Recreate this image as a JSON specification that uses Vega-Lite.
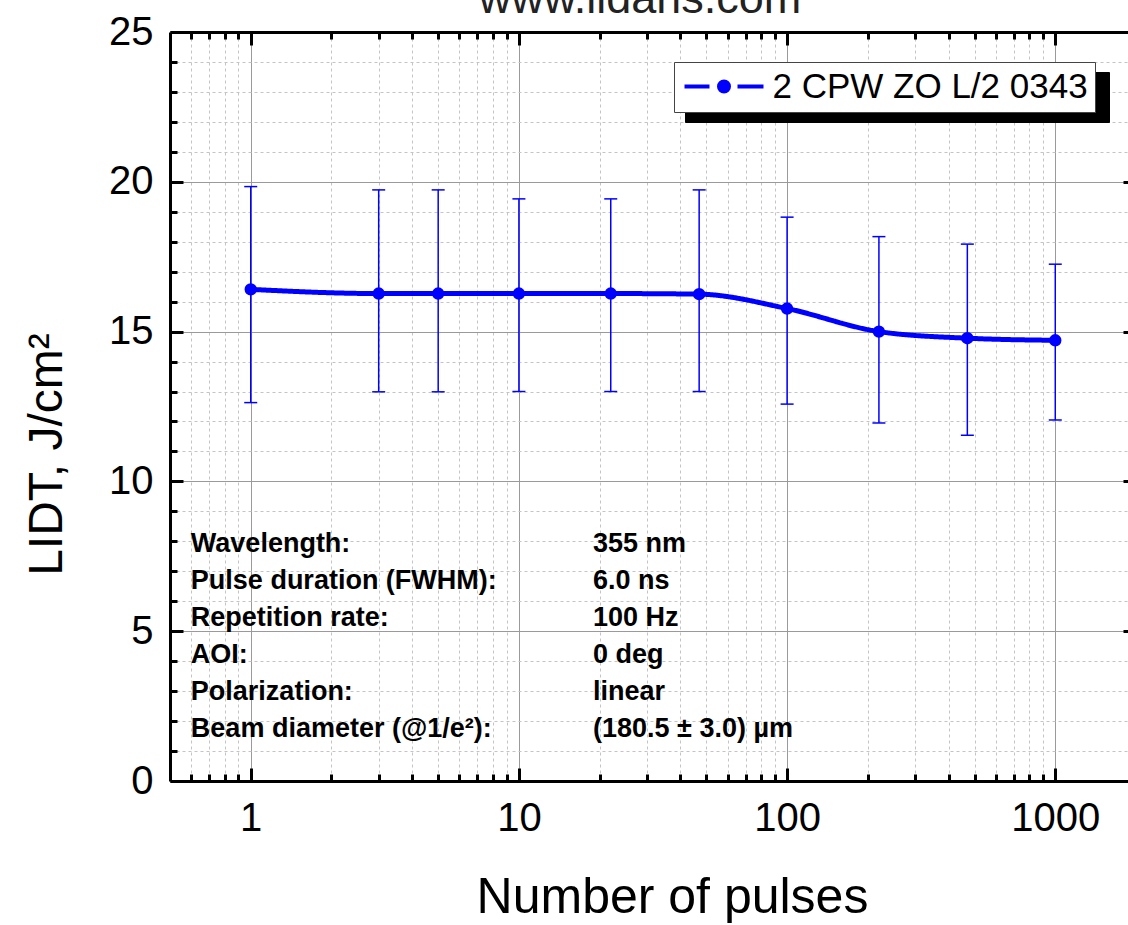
{
  "$schema": "https://vega.github.io/schema/vega-lite/v6.json",
  "width": 966,
  "height": 749,
  "autosize": {"type": "none"},
  "padding": {"left": 170, "top": 32, "right": -8, "bottom": 144},
  "background": "white",
  "config": {
    "view": {"stroke": null},
    "font": "Liberation Sans",
    "axis": {"domainColor": "black", "domainWidth": 3, "tickColor": "black", "tickWidth": 3, "gridColor": "#9a9a9a", "gridWidth": 1, "labelFont": "Liberation Sans", "labelFontSize": 40, "labelColor": "black", "titleFont": "Liberation Sans", "titleColor": "black", "titleFontWeight": "normal", "labelPadding": 30}
  },
  "datasets": {
    "lidt": [
      {"n": 1, "lidt": 16.41, "lo": 12.63, "hi": 19.84, "series": "2 CPW ZO L/2 0343", "shadow": "shadow"},
      {"n": 3, "lidt": 16.27, "lo": 12.99, "hi": 19.73, "series": "2 CPW ZO L/2 0343", "shadow": "shadow"},
      {"n": 5, "lidt": 16.27, "lo": 12.99, "hi": 19.73, "series": "2 CPW ZO L/2 0343", "shadow": "shadow"},
      {"n": 10, "lidt": 16.27, "lo": 13.0, "hi": 19.43, "series": "2 CPW ZO L/2 0343", "shadow": "shadow"},
      {"n": 22, "lidt": 16.27, "lo": 13.0, "hi": 19.43, "series": "2 CPW ZO L/2 0343", "shadow": "shadow"},
      {"n": 47, "lidt": 16.25, "lo": 13.0, "hi": 19.73, "series": "2 CPW ZO L/2 0343", "shadow": "shadow"},
      {"n": 100, "lidt": 15.77, "lo": 12.58, "hi": 18.82, "series": "2 CPW ZO L/2 0343", "shadow": "shadow"},
      {"n": 220, "lidt": 15.0, "lo": 11.95, "hi": 18.17, "series": "2 CPW ZO L/2 0343", "shadow": "shadow"},
      {"n": 470, "lidt": 14.78, "lo": 11.54, "hi": 17.92, "series": "2 CPW ZO L/2 0343", "shadow": "shadow"},
      {"n": 1000, "lidt": 14.71, "lo": 12.05, "hi": 17.25, "series": "2 CPW ZO L/2 0343", "shadow": "shadow"}
    ],
    "info": [
      {"params": ["Wavelength:", "Pulse duration (FWHM):", "Repetition rate:", "AOI:", "Polarization:", "Beam diameter (@1/e²):"],
       "values": ["355 nm", "6.0 ns", "100 Hz", "0 deg", "linear", "(180.5 ± 3.0) µm"]}
    ],
    "site": [{"site": "www.lidaris.com"}]
  },
  "layer": [
    {
      "data": {"name": "lidt"},
      "mark": {"type": "line", "color": "#0000ff", "strokeWidth": 5, "interpolate": "monotone"},
      "encoding": {
        "x": {"field": "n", "type": "quantitative", "scale": {"type": "log", "domain": [0.5, 2000]},
              "axis": {"orient": "bottom", "values": [0.6, 0.7, 0.8, 0.9, 2, 3, 4, 5, 6, 7, 8, 9, 20, 30, 40, 50, 60, 70, 80, 90, 200, 300, 400, 500, 600, 700, 800, 900, 2000], "tickSize": -7, "labels": false, "domain": false, "grid": true, "gridDash": [3, 3], "gridColor": "#c4c4c4", "title": null}},
        "y": {"field": "lidt", "type": "quantitative", "scale": {"domain": [0, 25]},
              "axis": {"orient": "left", "values": [1, 2, 3, 4, 6, 7, 8, 9, 11, 12, 13, 14, 16, 17, 18, 19, 21, 22, 23, 24], "tickSize": -7, "labels": false, "domain": false, "grid": true, "gridDash": [3, 3], "gridColor": "#c4c4c4", "title": null}},
        "strokeDash": {"field": "shadow", "type": "nominal", "scale": {"range": [[1, 0]]},
              "legend": {"orient": "none", "legendX": 515, "legendY": 40, "title": null, "fillColor": "black", "strokeColor": "black", "padding": 7, "labelFontSize": 35, "labelColor": "black", "labelExpr": "''", "symbolType": "M-2.633,-0.66L23.9,-0.66L23.9,0.66L-2.633,0.66Z", "symbolSize": 900, "symbolFillColor": "black", "symbolStrokeColor": "black", "symbolStrokeWidth": 4, "symbolOffset": 25.5, "labelOffset": 31}}
      }
    },
    {
      "data": {"name": "lidt"},
      "mark": {"type": "rule", "color": "#0000ff", "strokeWidth": 1.5},
      "encoding": {
        "x": {"field": "n", "type": "quantitative", "scale": {"type": "log", "domain": [0.5, 2000]},
              "axis": {"orient": "bottom", "values": [1, 10, 100, 1000], "format": "d", "tickSize": -13, "grid": true, "title": "Number of pulses", "titleFontSize": 50, "titleX": 502, "titleY": 131, "titleAlign": "center", "titleBaseline": "alphabetic"}},
        "y": {"field": "lo", "type": "quantitative", "scale": {"domain": [0, 25]},
              "axis": {"orient": "left", "values": [0, 5, 10, 15, 20, 25], "tickSize": -13, "grid": true, "title": "LIDT, J/cm²", "titleFontSize": 48, "titleAngle": -90, "titleX": -109, "titleY": 422, "titleAlign": "center", "titleBaseline": "alphabetic"}},
        "y2": {"field": "hi"}
      }
    },
    {
      "data": {"name": "lidt"},
      "mark": {"type": "tick", "orient": "horizontal", "color": "#0000ff", "size": 13, "thickness": 1.5, "opacity": 1},
      "encoding": {
        "x": {"field": "n", "type": "quantitative", "scale": {"type": "log", "domain": [0.5, 2000]},
              "axis": {"orient": "top", "values": [0.6, 0.7, 0.8, 0.9, 2, 3, 4, 5, 6, 7, 8, 9, 20, 30, 40, 50, 60, 70, 80, 90, 200, 300, 400, 500, 600, 700, 800, 900, 2000], "tickSize": -7, "labels": false, "domain": false, "grid": false, "title": null}},
        "y": {"field": "hi", "type": "quantitative", "scale": {"domain": [0, 25]},
              "axis": {"orient": "right", "values": [0, 5, 10, 15, 20, 25], "tickSize": -13, "labels": false, "domain": true, "grid": false, "title": null}}
      }
    },
    {
      "data": {"name": "lidt"},
      "mark": {"type": "tick", "orient": "horizontal", "color": "#0000ff", "size": 13, "thickness": 1.5, "opacity": 1},
      "encoding": {
        "x": {"field": "n", "type": "quantitative", "scale": {"type": "log", "domain": [0.5, 2000]},
              "axis": {"orient": "top", "values": [1, 10, 100, 1000], "tickSize": -13, "labels": false, "domain": true, "grid": false, "title": null}},
        "y": {"field": "lo", "type": "quantitative", "scale": {"domain": [0, 25]},
              "axis": {"orient": "right", "values": [1, 2, 3, 4, 6, 7, 8, 9, 11, 12, 13, 14, 16, 17, 18, 19, 21, 22, 23, 24], "tickSize": -7, "labels": false, "domain": false, "grid": false, "title": null}}
      }
    },
    {
      "data": {"name": "lidt"},
      "mark": {"type": "point", "filled": true, "shape": "circle", "size": 154, "opacity": 1},
      "encoding": {
        "x": {"field": "n", "type": "quantitative", "scale": {"type": "log", "domain": [0.5, 2000]}, "axis": null},
        "y": {"field": "lidt", "type": "quantitative", "scale": {"domain": [0, 25]}, "axis": null},
        "color": {"field": "series", "type": "nominal", "scale": {"range": ["#0000ff"]},
              "legend": {"orient": "none", "legendX": 504, "legendY": 30, "title": null, "fillColor": "white", "strokeColor": "#444444", "padding": 7, "labelFont": "Liberation Sans", "labelFontSize": 35, "labelColor": "black", "labelLimit": 700, "symbolType": "M-2.633,0L-0.967,0M0.9,0L2.633,0M-0.333,0A0.333,0.333,0,1,1,0.333,0A0.333,0.333,0,1,1,-0.333,0Z", "symbolSize": 900, "symbolFillColor": "#0000ff", "symbolStrokeColor": "#0000ff", "symbolStrokeWidth": 4, "symbolOpacity": 1, "symbolOffset": 25.5, "labelOffset": 31}}
      }
    },
    {
      "data": {"name": "info"},
      "mark": {"type": "text", "font": "Liberation Sans", "fontSize": 27, "fontWeight": "bold", "color": "black", "align": "left", "baseline": "top", "lineHeight": 37},
      "encoding": {
        "x": {"datum": 0.598, "type": "quantitative", "scale": {"type": "log", "domain": [0.5, 2000]}, "axis": null},
        "y": {"datum": 8.35, "type": "quantitative", "scale": {"domain": [0, 25]}, "axis": null},
        "text": {"field": "params"}
      }
    },
    {
      "data": {"name": "info"},
      "mark": {"type": "text", "font": "Liberation Sans", "fontSize": 27, "fontWeight": "bold", "color": "black", "align": "left", "baseline": "top", "lineHeight": 37},
      "encoding": {
        "x": {"datum": 18.9, "type": "quantitative", "scale": {"type": "log", "domain": [0.5, 2000]}, "axis": null},
        "y": {"datum": 8.35, "type": "quantitative", "scale": {"domain": [0, 25]}, "axis": null},
        "text": {"field": "values"}
      }
    },
    {
      "data": {"name": "site"},
      "mark": {"type": "text", "font": "Liberation Sans", "fontSize": 45, "color": "#222222", "align": "center", "baseline": "alphabetic", "clip": false},
      "encoding": {
        "x": {"datum": 28.3, "type": "quantitative", "scale": {"type": "log", "domain": [0.5, 2000]}, "axis": null},
        "y": {"datum": 25.64, "type": "quantitative", "scale": {"domain": [0, 25]}, "axis": null},
        "text": {"field": "site"}
      }
    }
  ],
  "resolve": {"axis": {"x": "independent", "y": "independent"}}
}
